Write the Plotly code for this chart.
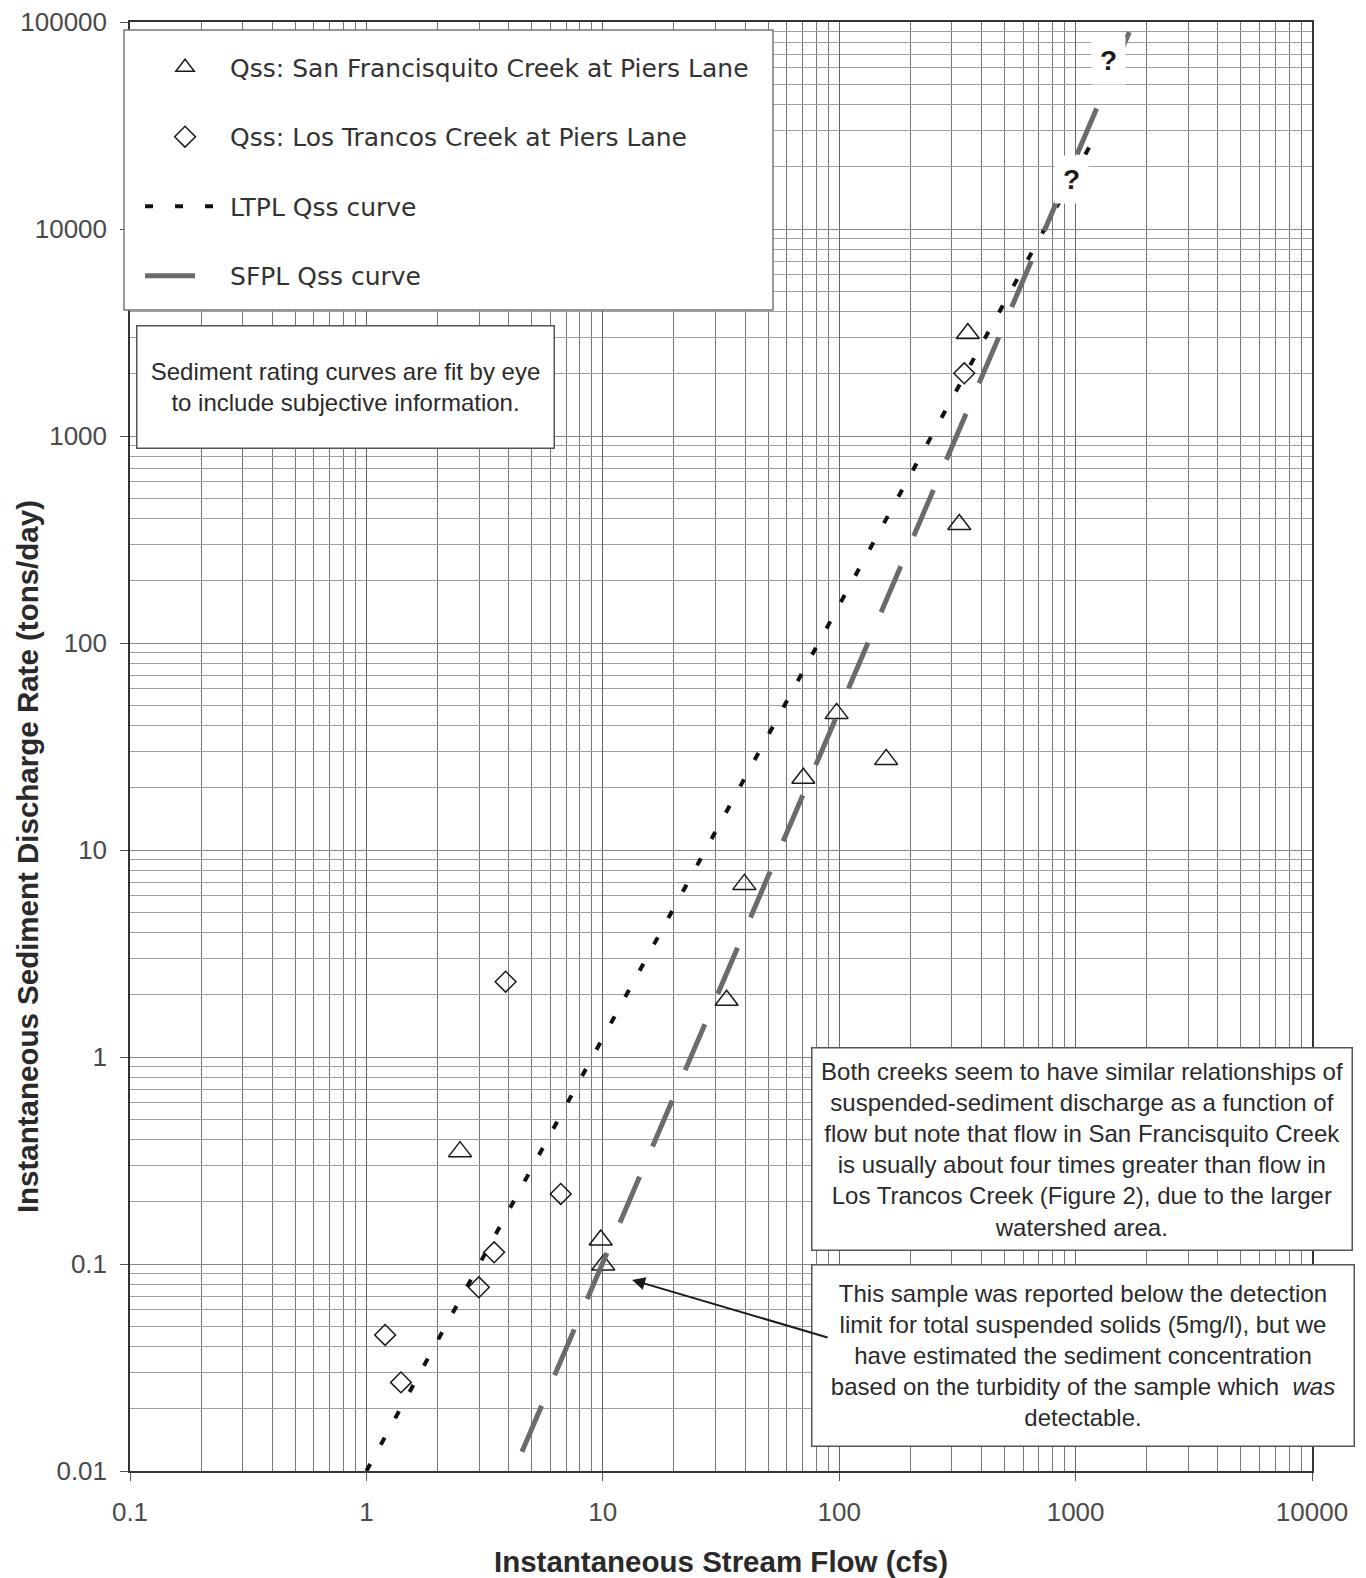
import numpy as np
import plotly.graph_objects as go

# ---------------- data ----------------
# Qss: San Francisquito Creek at Piers Lane (open triangles)
sf_flow = [350, 322, 97.5, 70.5, 158, 39.7, 33.4, 2.49, 9.8, 10.05]
sf_qss = [3130, 374, 45.7, 22.2, 27.4, 6.82, 1.88, 0.349, 0.1305, 0.0989]

# Qss: Los Trancos Creek at Piers Lane (open diamonds)
lt_flow = [338, 3.88, 6.64, 3.47, 2.99, 1.20, 1.40]
lt_qss = [2009, 2.31, 0.218, 0.1139, 0.0772, 0.0454, 0.0268]

# Sediment rating curves (fit by eye, straight lines on log-log paper)
ltpl_flow = [1, 1250]
ltpl_qss = [0.01, 30000]
sfpl_flow = [4.55, 1760]
sfpl_qss = [0.0124, 100000]

# "?" marks on the extrapolated parts of the curves (flow, Qss)
question_flow = [1380, 965]
question_qss = [65500, 17300]

# sample reported below detection limit (arrow target)
arrow_flow = [13.3]
arrow_qss = [0.0838]

x_tickvals = [0.1, 1, 10, 100, 1000, 10000]
x_ticktext = ["0.1", "1", "10", "100", "1000", "10000"]
y_tickvals = [0.01, 0.1, 1, 10, 100, 1000, 10000, 100000]
y_ticktext = ["0.01", "0.1", "1", "10", "100", "1000", "10000", "100000"]

legend_names = [
    "Qss: San Francisquito Creek at Piers Lane",
    "Qss: Los Trancos Creek at Piers Lane",
    "LTPL Qss curve",
    "SFPL Qss curve",
]

# ---------------- figure ----------------
fig = go.Figure()

fig.add_trace(go.Scatter(
    x=sf_flow, y=sf_qss, mode="markers", name=legend_names[0], legendgroup="a",
    marker=dict(symbol="triangle-up-open", size=20, color="#1a1a1a", line=dict(width=1.5)),
))
fig.add_trace(go.Scatter(
    x=lt_flow, y=lt_qss, mode="markers", name=legend_names[1], legendgroup="b",
    marker=dict(symbol="diamond-open", size=16, color="#1a1a1a", line=dict(width=1.5)),
))
fig.add_trace(go.Scatter(
    x=ltpl_flow, y=ltpl_qss, mode="lines", name=legend_names[2], legendgroup="c",
    line=dict(color="#111111", width=4, dash="8px,22px"),
))
fig.add_trace(go.Scatter(
    x=sfpl_flow, y=sfpl_qss, mode="lines", name=legend_names[3], legendgroup="d",
    line=dict(color="#6b6b6b", width=5, dash="50px,33px"),
))

tick_font = dict(family="Liberation Sans, Arial, sans-serif", size=26, color="#4a4a4a")
title_font = dict(family="Liberation Sans, Arial, sans-serif", size=29.5, color="#2a2a2a")
box_font = dict(family="Liberation Sans, Arial, sans-serif", size=24, color="#2a2a2a")

common_axis = dict(
    type="log",
    showline=True, linecolor="#333333", linewidth=1.5, mirror=True,
    ticks="outside", ticklen=8, tickcolor="#555555", tickwidth=1,
    tickfont=tick_font,
    showgrid=True, gridwidth=1,
    zeroline=False,
)

fig.update_xaxes(
    **common_axis,
    range=[-1, 4],
    tickmode="array", tickvals=x_tickvals, ticktext=x_ticktext,
    gridcolor="#666666",
    minor=dict(dtick="D1", showgrid=True, gridcolor="#777777", gridwidth=1, ticks=""),
    ticklabelstandoff=9,
    title=dict(text="<b>Instantaneous Stream Flow (cfs)</b>", font=title_font, standoff=31),
)
fig.update_yaxes(
    **common_axis,
    range=[-2, 5],
    tickmode="array", tickvals=y_tickvals, ticktext=y_ticktext,
    gridcolor="#888888",
    minor=dict(dtick="D1", showgrid=True, gridcolor="#a0a0a0", gridwidth=1, ticks=""),
    ticklabelstandoff=8,
)

annotations = []
# y-axis title (placed as annotation so that it sits where the original does)
annotations.append(dict(
    text="<b>Instantaneous Sediment Discharge Rate (tons/day)</b>",
    xref="paper", yref="paper", x=-0.0871, y=0.4237, textangle=-90,
    showarrow=False, font=title_font, xanchor="center", yanchor="middle",
))
# note box: fit by eye
annotations.append(dict(
    text="Sediment rating curves are fit by eye<br>to include subjective information.",
    xref="paper", yref="paper", x=0.1827, y=0.7478, xanchor="center", yanchor="middle",
    showarrow=False, align="center", width=414, height=119,
    bgcolor="white", bordercolor="#555555", borderwidth=1.5, borderpad=1,
    font=box_font,
))
# note box: both creeks
annotations.append(dict(
    text=("Both creeks seem to have similar relationships of<br>"
          "suspended-sediment discharge as a function of<br>"
          "flow but note that flow in San Francisquito Creek<br>"
          "is usually about four times greater than flow in<br>"
          "Los Trancos Creek (Figure 2), due to the larger<br>"
          "watershed area."),
    xref="paper", yref="paper", x=0.805, y=0.2219, xanchor="center", yanchor="middle",
    showarrow=False, align="center", width=537, height=199,
    bgcolor="white", bordercolor="#555555", borderwidth=1.5, borderpad=1,
    font=box_font,
))
# note box: detection limit
annotations.append(dict(
    text=("This sample was reported below the detection<br>"
          "limit for total suspended solids (5mg/l), but we<br>"
          "have estimated the sediment concentration<br>"
          "based on the turbidity of the sample which  <i>was</i><br>"
          "detectable."),
    xref="paper", yref="paper", x=0.8062, y=0.0800, xanchor="center", yanchor="middle",
    showarrow=False, align="center", width=539, height=178,
    bgcolor="white", bordercolor="#555555", borderwidth=1.5, borderpad=1,
    font=box_font,
))
# arrow to the estimated sample
annotations.append(dict(
    text="", x=float(np.log10(arrow_flow[0])), y=float(np.log10(arrow_qss[0])),
    xref="x", yref="y", ax=197, ay=58, axref="pixel", ayref="pixel",
    showarrow=True, arrowhead=2, arrowsize=1.3, arrowwidth=2, arrowcolor="#1a1a1a",
))
# question marks
for qf, qq in zip(question_flow, question_qss):
    annotations.append(dict(
        text="<b>?</b>", x=float(np.log10(qf)), y=float(np.log10(qq)), xref="x", yref="y",
        showarrow=False, bgcolor="white", borderpad=8,
        font=dict(family="Liberation Sans, Arial, sans-serif", size=28, color="#1a1a1a"),
    ))

fig.update_layout(
    width=1366, height=1578,
    margin=dict(l=130, r=54, t=22, b=107, autoexpand=False),
    plot_bgcolor="white", paper_bgcolor="white",
    showlegend=True,
    legend=dict(
        x=0.0085, y=0.9845, xanchor="left", yanchor="top",
        bgcolor="rgba(0,0,0,0)", borderwidth=0,
        font=dict(family="DejaVu Sans, sans-serif", size=25, color="#333333"),
        traceorder="grouped", tracegroupgap=34, itemwidth=80,
    ),
    shapes=[dict(
        type="rect", xref="paper", yref="paper",
        x0=-0.0051, x1=0.544, y0=0.8012, y1=0.9945,
        fillcolor="white", line=dict(color="#777777", width=1.5), layer="above",
    )],
    annotations=annotations,
)

fig.write_html(
    "out.html",
    config={"displayModeBar": False},
    post_script="document.body.style.margin='0';document.body.style.overflow='hidden';",
)
